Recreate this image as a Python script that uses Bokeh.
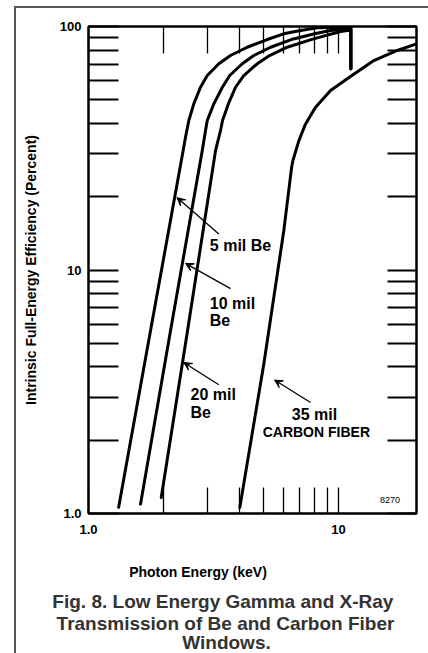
from bokeh.plotting import figure
from bokeh.models import (LogAxis, FixedTicker, Label, Arrow, VeeHead, Range1d,
                          CustomJSTickFormatter, Div, Spacer)
from bokeh.layouts import column, row
from bokeh.embed import file_html
from bokeh.resources import INLINE

# ---- data ----
be5_x = [1.32, 1.77, 2.39, 2.443, 2.519, 2.637, 2.805, 2.985, 3.32, 3.698, 4.31, 5.186, 6.03, 7.047, 8.22, 11.2, 11.2]
be5_y = [1.06, 5.63, 30.9, 35.1, 41.1, 48.1, 56.3, 62.9, 70.3, 76.0, 82.2, 88.4, 93.3, 96.3, 98.8, 99.4, 67.0]

be10_x = [1.615, 2.128, 2.85, 2.938, 2.985, 3.171, 3.43, 3.671, 4.12, 4.583, 5.35, 6.47, 7.05, 8.02, 9.29, 11.2, 11.2]
be10_y = [1.093, 5.63, 30.9, 37.4, 41.1, 48.1, 56.3, 62.9, 70.3, 76.0, 82.2, 88.4, 90.4, 93.3, 96.3, 97.9, 67.0]

be20_x = [1.954, 2.489, 3.221, 3.373, 3.436, 3.624, 3.873, 4.177, 4.73, 5.297, 6.23, 7.94, 10.19, 11.2, 11.2]
be20_y = [1.163, 5.63, 30.9, 37.4, 41.1, 48.1, 56.3, 62.9, 70.3, 76.0, 82.2, 89.0, 95.4, 96.8, 67.0]

cf35_x = [4.03, 5.025, 6.04, 6.49, 6.565, 6.94, 7.38, 8.09, 8.79, 9.29, 10.83, 13.84, 17.17, 20.5]
cf35_y = [1.06, 4.11, 14.5, 26.4, 28.1, 34.0, 39.8, 46.6, 51.2, 54.6, 61.0, 72.5, 79.7, 84.9]

x_major = [1, 10]
x_minor = [2, 3, 4, 5, 6, 7, 8, 9]
y_major = [1, 10, 100]
y_minor = [2, 3, 4, 5, 6, 7, 8, 9, 20, 30, 40, 50, 60, 70, 80, 90]
x_tick_labels = {1: "1.0", 10: "10"}
y_tick_labels = {1: "1.0", 10: "10", 100: "100"}

FONT = "Liberation Sans"

p = figure(width=412, height=537, x_axis_type="log", y_axis_type="log",
           x_range=Range1d(1, 20.5), y_range=Range1d(1, 100),
           output_backend="svg", toolbar_location=None,
           min_border_left=72, min_border_right=12, min_border_top=18, min_border_bottom=32)
p.xgrid.visible = False
p.ygrid.visible = False
p.outline_line_color = "black"
p.outline_line_width = 2
p.background_fill_color = "white"
p.border_fill_color = "white"

bottom = p.below[0]
left = p.left[0]
right = LogAxis()
top = LogAxis()
p.add_layout(right, "right")
p.add_layout(top, "above")

def style_axis(ax, ticks, minor, tick_len, lw, labels=None):
    ax.ticker = FixedTicker(ticks=ticks, minor_ticks=minor)
    ax.major_tick_in = tick_len
    ax.major_tick_out = 0
    ax.minor_tick_in = tick_len
    ax.minor_tick_out = 0
    ax.major_tick_line_width = lw
    ax.minor_tick_line_width = lw
    ax.major_tick_line_color = "black"
    ax.minor_tick_line_color = "black"
    ax.axis_line_width = 2
    ax.axis_line_color = "black"
    ax.major_label_text_font = FONT
    ax.major_label_text_font_style = "bold"
    ax.major_label_text_font_size = "13px"
    ax.major_label_text_color = "black"
    if labels is None:
        ax.formatter = CustomJSTickFormatter(code="return ''")
        ax.major_label_standoff = 0
    else:
        ax.major_label_overrides = labels

style_axis(bottom, x_major, x_minor, 26, 1.3, x_tick_labels)
style_axis(top, x_major, x_minor, 27, 1.3)
style_axis(left, y_major, y_minor, 30, 2, y_tick_labels)
style_axis(right, y_major, y_minor, 29, 2)
bottom.major_label_standoff = 11
left.major_label_standoff = 7

left.axis_label = "Intrinsic Full-Energy Efficiency (Percent)"
left.axis_label_text_font = FONT
left.axis_label_text_font_style = "bold"
left.axis_label_text_font_size = "14px"
left.axis_label_text_color = "black"
left.axis_label_standoff = 18

for xs, ys in [(be5_x, be5_y), (be10_x, be10_y), (be20_x, be20_y), (cf35_x, cf35_y)]:
    p.line(xs, ys, line_width=3, line_color="black", line_join="round", line_cap="round")

def add_arrow(x0, y0, x1, y1):
    p.add_layout(Arrow(x_start=x0, y_start=y0, x_end=x1, y_end=y1, line_width=1.3, line_color="black",
                       end=VeeHead(size=8, fill_color="black", line_color="black", line_width=1)))

add_arrow(3.32, 14.07, 2.259, 19.83)
add_arrow(3.698, 8.38, 2.443, 10.65)
add_arrow(3.32, 3.38, 2.405, 4.17)
add_arrow(7.727, 2.858, 5.546, 3.533)

def add_text(fig, x, y, t, size="16px", align="left", style="bold", color="black"):
    fig.add_layout(Label(x=x, y=y, text=t, text_align=align,
                         text_baseline="middle", text_font=FONT, text_font_size=size,
                         text_font_style=style, text_color=color))

add_text(p, 3.056, 12.59, "5 mil Be")
add_text(p, 3.056, 7.29, "10 mil")
add_text(p, 3.056, 6.23, "Be")
add_text(p, 2.559, 3.095, "20 mil")
add_text(p, 2.559, 2.60, "Be")
add_text(p, 8.017, 2.562, "35 mil", align="center")
add_text(p, 8.151, 2.152, "CARBON FIBER", size="14px", align="center")
add_text(p, 16.07, 1.135, "8270", size="9px", align="center", style="normal")

# ---- caption panel below the chart (coordinates in page pixels, y downwards) ----
cap = figure(width=412, height=108, x_range=Range1d(16, 428), y_range=Range1d(653, 545),
             output_backend="svg", toolbar_location=None, min_border=0,
             x_axis_location=None, y_axis_location=None)
cap.xgrid.visible = False
cap.ygrid.visible = False
cap.outline_line_color = None
cap.background_fill_color = "white"
cap.border_fill_color = "white"
for fig in (p, cap):
    try:
        fig.frame_align = False
    except Exception:
        pass

add_text(cap, 197.5, 571.7, "Photon Energy (keV)", size="14px", align="center")
add_text(cap, 225, 600.7, "Fig. 8.  Low Energy Gamma and X-Ray", size="19px", align="center", color="#333333")
add_text(cap, 225, 623, "Transmission of Be and Carbon Fiber", size="19px", align="center", color="#333333")
add_text(cap, 226, 642, "Windows.", size="19px", align="center", color="#333333")

line_style = {"background-color": "#555555"}
top_line = Div(text="", width=414, height=2, margin=0, styles=line_style)
left_line = Div(text="", width=2, height=645, margin=0, styles=line_style)
body = row(left_line, column(p, cap, spacing=0, margin=0), spacing=0, margin=0)
layout = row(Spacer(width=14, height=653, margin=0),
             column(Spacer(width=414, height=6, margin=0), top_line, body, spacing=0, margin=0),
             spacing=0, margin=0)

open("out.html", "w").write(file_html(layout, INLINE))
